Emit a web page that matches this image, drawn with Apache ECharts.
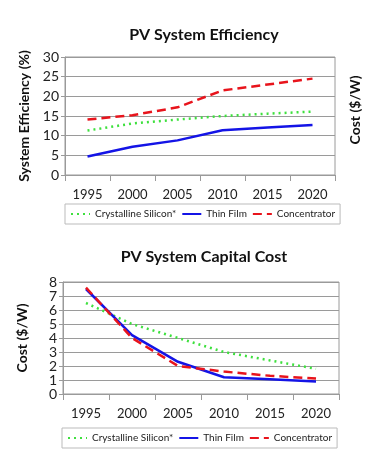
<!DOCTYPE html>
<html lang="en">
<head>
    <meta charset="UTF-8">
    <title>PV System</title>
    <script src="https://cdn.jsdelivr.net/npm/echarts@6/dist/echarts.min.js"></script>
</head>
<style>
    body{
        margin: 0;
        padding: 0;
        background: #fff;
    }
</style>
<body>
<div id="main" style="width: 377px;height:460px;"></div>
<script>
    // 年份（类目轴）
    var years = ['1995', '2000', '2005', '2010', '2015', '2020'];

    // 系统效率 (%)
    var effSilicon = [11.3, 13.1, 14.1, 15.0, 15.6, 16.1];
    var effThinFilm = [4.7, 7.2, 8.8, 11.4, 12.1, 12.7];
    var effConcentrator = [14.1, 15.2, 17.2, 21.5, 23.0, 24.5];

    // 资本成本 ($/W)
    var costSilicon = [6.5, 5.0, 4.0, 3.0, 2.4, 1.8];
    var costThinFilm = [7.5, 4.2, 2.3, 1.2, 1.05, 0.9];
    var costConcentrator = [7.6, 4.0, 2.0, 1.6, 1.3, 1.1];

    var legendNames = ['Crystalline Silicon*', 'Thin Film', 'Concentrator'];

    var fontFam = 'Lato';
    var green = '#3ee03e', blue = '#1414e6', red = '#e8141c';
    var gridLine = '#9a9a9a';

    function xAxis(idx) {
        return {
            type: 'category',
            gridIndex: idx,
            data: years,
            boundaryGap: true,
            axisLine: {lineStyle: {color: gridLine, width: 1}},
            axisTick: {show: true, length: 6, lineStyle: {color: gridLine}},
            axisLabel: {color: '#222', fontSize: 13, fontFamily: fontFam, margin: 13}
        };
    }

    function yAxis(idx, max, name, gap) {
        return {
            type: 'value',
            gridIndex: idx,
            min: 0,
            max: max,
            interval: max == 30 ? 5 : 1,
            name: name,
            nameLocation: 'middle',
            nameGap: gap,
            nameTextStyle: {color: '#111', fontSize: 14, fontWeight: 'bold', fontFamily: fontFam},
            axisLine: {show: true, lineStyle: {color: gridLine}},
            axisTick: {show: true, length: 4, lineStyle: {color: gridLine}},
            axisLabel: {color: '#222', fontSize: 14, fontFamily: fontFam, margin: 6},
            splitLine: {lineStyle: {color: gridLine, width: 1}}
        };
    }

    function line(name, data, idx, color, type) {
        return {
            name: name,
            type: 'line',
            xAxisIndex: idx,
            yAxisIndex: idx,
            data: data,
            symbol: 'none',
            smooth: false,
            lineStyle: {color: color, width: 2.5, type: type},
            itemStyle: {color: color},
            animation: false
        };
    }

    function legend(idx, left, top) {
        return {
            data: legendNames.slice(),
            left: left,
            top: top,
            itemWidth: 19,
            itemHeight: 10,
            itemGap: 5,
            padding: [5, 5],
            borderColor: '#bbb',
            borderWidth: 1,
            itemStyle: {opacity: 0},
            textStyle: {color: '#222', fontSize: 10, fontFamily: fontFam},
            selectedMode: false
        };
    }

    var chart = echarts.init(document.getElementById('main'));
    var option = {
        animation: false,
        title: [
            {text: 'PV System Efficiency', left: 199, top: 22, textAlign: 'center',
                textStyle: {fontSize: 16, fontWeight: 'bold', color: '#111', fontFamily: fontFam}},
            {text: 'PV System Capital Cost', left: 199, top: 244, textAlign: 'center',
                textStyle: {fontSize: 16, fontWeight: 'bold', color: '#111', fontFamily: fontFam}}
        ],
        grid: [
            {left: 65, right: 42, top: 57, height: 118, show: true, borderColor: gridLine, borderWidth: 1},
            {left: 63, right: 38, top: 282, height: 112, show: true, borderColor: gridLine, borderWidth: 1}
        ],
        xAxis: [xAxis(0), xAxis(1)],
        yAxis: [yAxis(0, 30, 'System Efficiency (%)', 23), yAxis(1, 8, 'Cost ($/W)', 34)],
        legend: [legend(0, 65, 204), legend(1, 62, 428)],
        graphic: [{
            type: 'text',
            x: 355,
            y: 110,
            rotation: Math.PI / 2,
            style: {text: 'Cost ($/W)', fill: '#111', fontSize: 14, fontWeight: 'bold',
                fontFamily: fontFam, align: 'center', verticalAlign: 'middle'}
        }],
        series: [
            line(legendNames[0], effSilicon, 0, green, [2, 4]),
            line(legendNames[1], effThinFilm, 0, blue, 'solid'),
            line(legendNames[2], effConcentrator, 0, red, [9, 5]),
            line(legendNames[0], costSilicon, 1, green, [2, 4]),
            line(legendNames[1], costThinFilm, 1, blue, 'solid'),
            line(legendNames[2], costConcentrator, 1, red, [9, 5])
        ]
    };
    chart.setOption(option);
</script>
</body>
</html>
